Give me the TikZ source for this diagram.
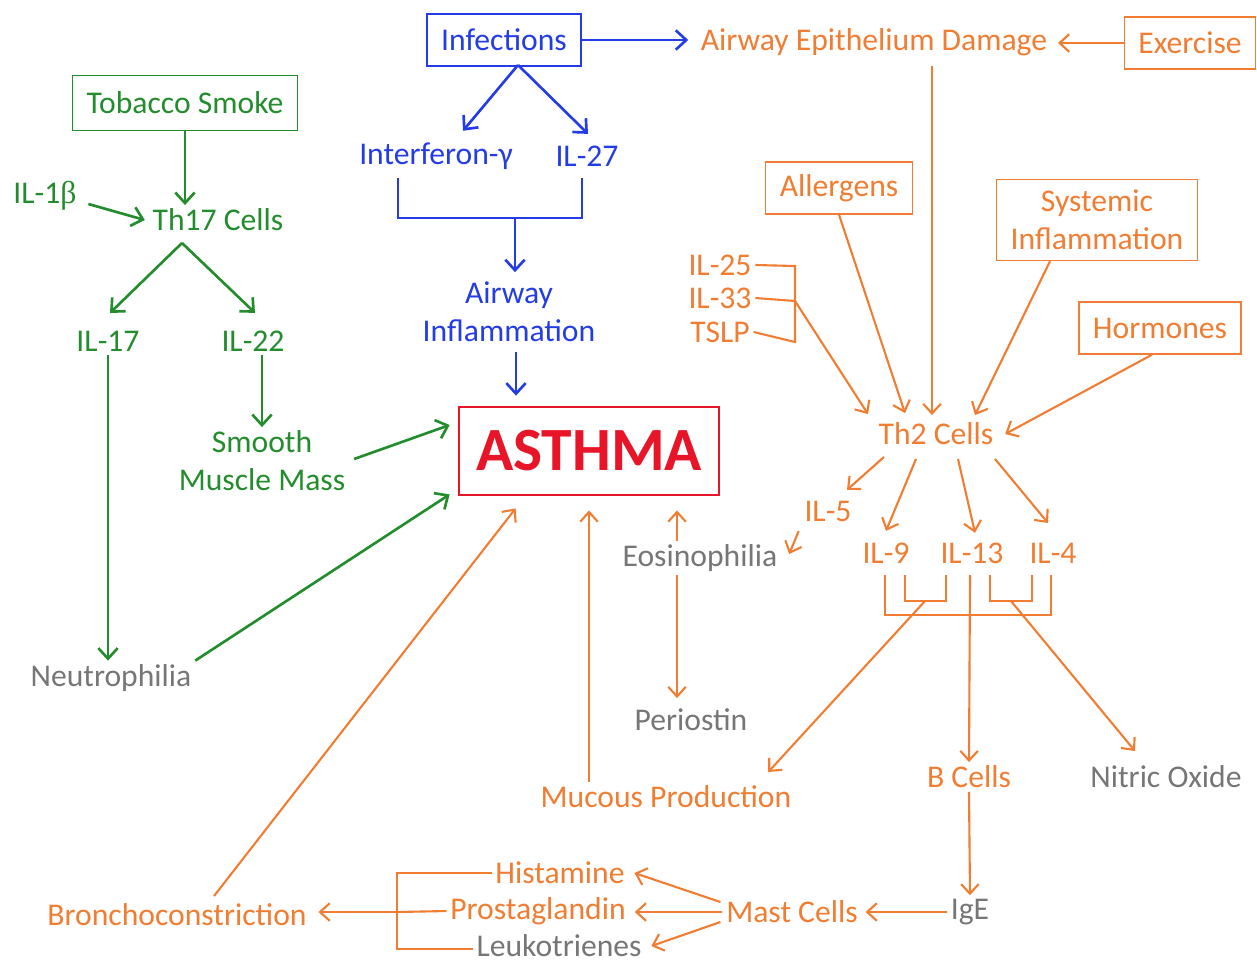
\documentclass[tikz,border=0pt]{standalone}
\usepackage{fontspec}
\setmainfont{Carlito}
\newfontfamily\betafont{Liberation Serif}
\usepackage{tikz}
\usetikzlibrary{positioning,arrows.meta,calc}
\definecolor{leafgreen}{RGB}{35,140,45}
\definecolor{infblue}{RGB}{35,60,230}
\definecolor{thorange}{RGB}{240,125,50}
\definecolor{midgrey}{RGB}{118,118,118}
\definecolor{alarmred}{RGB}{232,20,40}
\tikzstyle{gtext} = [text=leafgreen, inner sep=2pt]
\tikzstyle{btext} = [text=infblue, inner sep=2pt]
\tikzstyle{otext} = [text=thorange, inner sep=2pt]
\tikzstyle{greytext} = [text=midgrey, inner sep=2pt]
\tikzstyle{gbox} = [gtext, draw=leafgreen, line width=0.8pt, inner xsep=8pt, minimum height=1.1cm]
\tikzstyle{bbox} = [btext, draw=infblue, line width=0.8pt, inner xsep=8pt, minimum height=1.04cm]
\tikzstyle{obox} = [otext, draw=thorange, line width=0.8pt, inner xsep=8pt, inner ysep=6pt, minimum height=1.04cm]
\tikzstyle{asthmabox} = [draw=alarmred, text=alarmred, line width=1.6pt, minimum width=5.2cm, minimum height=1.76cm, font=\fontsize{35}{42}\selectfont\bfseries]
\tikzstyle{garrow} = [leafgreen, line width=1.5pt, -{Straight Barb[length=6pt,width=11pt]}]
\tikzstyle{barrow} = [infblue, line width=1.5pt, -{Straight Barb[length=6pt,width=11pt]}]
\tikzstyle{oarrow} = [thorange, line width=1.2pt, -{Straight Barb[length=5.5pt,width=10pt]}]
\tikzstyle{bline} = [infblue, line width=1.5pt]
\tikzstyle{oline} = [thorange, line width=1.2pt]

\begin{document}
\begin{tikzpicture}[x=0.02cm, y=-0.02cm, every node/.style={font=\fontsize{18}{21.6}\selectfont}]
    \useasboundingbox (0,0) rectangle (1257,965);

    % smoke side
    \node[gbox] (smoke) at (185,103) {Tobacco Smoke};
    \node[gtext] (il1b) at (45,196) {IL-1{\betafont β}};
    \node[gtext] (th17) at (218,220) {Th17 Cells};
    \node[gtext] (il17) at (108,341) {IL-17};
    \node[gtext] (il22) at (253,341) {IL-22};
    \node[gtext, align=center] (smooth) at (262,461) {Smooth\\Muscle Mass};
    \node[greytext] (neutro) at (111,678) {Neutrophilia};

    % infection side
    \node[bbox] (infect) at (504,40) {Infections};
    \node[btext] (ifng) at (436,156) {Interferon-γ};
    \node[btext] (il27) at (587,156) {IL-27};
    \node[btext, align=center] (airinf) at (509,312) {Airway\\Inflammation};

    \node[asthmabox] (asthma) at (589,451) {ASTHMA};

    % th2 side
    \node[otext] (aed) at (874,42) {Airway Epithelium Damage};
    \node[obox] (exer) at (1190,43) {Exercise};
    \node[obox] (allerg) at (839,188) {Allergens};
    \node[obox, align=center] (sysinf) at (1097,220) {Systemic\\Inflammation};
    \node[obox] (horm) at (1160,328) {Hormones};
    \node[otext] (il25) at (720,265) {IL-25};
    \node[otext] (il33) at (720,298) {IL-33};
    \node[otext] (tslp) at (720,332) {TSLP};
    \node[otext] (th2) at (936,434) {Th2 Cells};
    \node[otext] (il5) at (828,511) {IL-5};
    \node[otext] (il9) at (886,553) {IL-9};
    \node[otext] (il13) at (972,553) {IL-13};
    \node[otext] (il4) at (1053,553) {IL-4};
    \node[greytext] (eosin) at (700,558) {Eosinophilia};
    \node[greytext] (periostin) at (691,720) {Periostin};
    \node[otext] (mucous) at (666,797) {Mucous Production};
    \node[otext] (bcell) at (969,777) {B Cells};
    \node[greytext] (nitric) at (1166,777) {Nitric Oxide};
    \node[greytext] (ige) at (970,912) {IgE};
    \node[otext] (mast) at (792,912) {Mast Cells};
    \node[otext] (hist) at (560,873) {Histamine};
    \node[otext] (prost) at (538,911) {Prostaglandin};
    \node[greytext] (leuko) at (559,946) {Leukotrienes};
    \node[otext] (broncho) at (177,915) {Bronchoconstriction};

    % bracket corners
    \coordinate (th17s) at (182,243);
    \coordinate (infs) at (518,65);
    \coordinate (ifl) at (398,178); \coordinate (ifb) at (398,218);
    \coordinate (ilr) at (582,178); \coordinate (ilb) at (582,218);
    \coordinate (ifm) at (515,218);
    \coordinate (c25) at (795,266); \coordinate (c33) at (795,301); \coordinate (ctslp) at (795,342);
    \coordinate (a1) at (885,575); \coordinate (a2) at (885,615);
    \coordinate (a3) at (1051,615); \coordinate (a4) at (1051,575);
    \coordinate (b1) at (905,575); \coordinate (b2) at (905,601);
    \coordinate (b3) at (946,601); \coordinate (b4) at (946,575);
    \coordinate (b5) at (925,601);
    \coordinate (d1) at (990,575); \coordinate (d2) at (990,601);
    \coordinate (d3) at (1032,601); \coordinate (d4) at (1032,575);
    \coordinate (d5) at (1011,601);
    \coordinate (m1) at (970,575);
    \coordinate (eo) at (677,558);
    \coordinate (hb) at (397,873); \coordinate (pb) at (397,912); \coordinate (lb) at (397,949);

    % green arrows
    \draw[garrow] (smoke.south) -- (smoke.south |- th17.north);
    \draw[garrow] ([shift={(8,8)}]il1b.east) -- ([shift={(-4,0)}]th17.west);
    \draw[garrow] (th17s) -- ([shift={(2,-14)}]il17.north);
    \draw[garrow] (th17s) -- ([shift={(2,-14)}]il22.north);
    \draw[garrow] ([shift={(9,0)}]il22.south) -- (smooth.north);
    \draw[garrow] (il17.south) -- (il17.south |- neutro.north);
    \draw[garrow] ([shift={(5,-2)}]smooth.east) -- ([shift={(-8,-26)}]asthma.west);
    \draw[garrow] (neutro.north east) -- ([shift={(-8,-2)}]asthma.south west);

    % blue arrows
    \draw[barrow] (infect.east) -- ([xshift=-5pt]infect.east -| aed.west);
    \draw[barrow] (infs) -- ([shift={(27,-8)}]ifng.north);
    \draw[barrow] (infs) -- ([shift={(1,-8)}]il27.north);
    \draw[bline] (ifl) -- (ifb) -- (ilb) -- (ilr);
    \draw[barrow] (ifm) -- ([shift={(6,-6)}]airinf.north);
    \draw[barrow] ([shift={(7,6)}]airinf.south) -- ([shift={(7,-10)}]airinf.south |- asthma.north);

    % orange arrows into th2
    \draw[oarrow] (exer.west) -- ([xshift=4pt]exer.west -| aed.east);
    \draw[oarrow] ([shift={(58,6)}]aed.south) -- ([shift={(-4,-4)}]th2.north);
    \draw[oarrow] (allerg.south) -- ([shift={(-31,-6)}]th2.north);
    \draw[oarrow] ([shift={(-47,0)}]sysinf.south) -- ([shift={(39,-4)}]th2.north);
    \draw[oarrow] ([shift={(-8,0)}]horm.south) -- ([shift={(8,0)}]th2.east);
    \draw[oline] (il25.east) -- (c25) -- (ctslp) -- (tslp.east);
    \draw[oline] (il33.east) -- (c33);
    \draw[oarrow] (c33) -- ([shift={(-68,-5)}]th2.north);

    % orange arrows out of th2
    \draw[oarrow] ([shift={(-52,8)}]th2.south) -- ([shift={(19,-7)}]il5.north);
    \draw[oarrow] ([shift={(-20,10)}]th2.south) -- ([shift={(0,-8)}]il9.north);
    \draw[oarrow] ([shift={(22,10)}]th2.south) -- ([shift={(3,-6)}]il13.north);
    \draw[oarrow] ([shift={(59,10)}]th2.south) -- ([shift={(-5,-16)}]il4.north);
    \draw[oarrow] ([shift={(-2,6)}]il5.south west) -- ([shift={(8,-4)}]eosin.east);
    \draw[oline] (a1) -- (a2) -- (a3) -- (a4);
    \draw[oline] (b1) -- (b2) -- (b3) -- (b4);
    \draw[oline] (d1) -- (d2) -- (d3) -- (d4);
    \draw[oarrow] (m1) -- (bcell.north);
    \draw[oarrow] (b5) -- ([shift={(-27,-10)}]mucous.north east);
    \draw[oarrow] (d5) -- ([shift={(-31,-11)}]nitric.north);

    % eosinophilia and mucous
    \draw[oarrow] (eo |- eosin.north) -- ([yshift=-8pt]eo |- asthma.south);
    \draw[oarrow] (eo |- eosin.south) -- ([yshift=4pt]eo |- periostin.north);
    \draw[oarrow] (mucous.north -| asthma.south) -- ([yshift=-8pt]asthma.south);

    % mast cells
    \draw[oarrow] (bcell.south) -- (ige.north);
    \draw[oarrow] (ige.west) -- ([shift={(4,0)}]mast.east);
    \draw[oarrow] ([shift={(-2,-10)}]mast.west) -- ([shift={(6,0)}]hist.east);
    \draw[oarrow] (mast.west) -- ([xshift=3pt]mast.west -| prost.east);
    \draw[oarrow] ([shift={(-2,10)}]mast.west) -- ([shift={(6,0)}]leuko.east);
    \draw[oline] (hist.west) -- (hb) -- (lb) -- (lb -| leuko.west);
    \draw[oline] (prost.west) -- (pb);
    \draw[oarrow] (pb) -- ([shift={(8,0)}]pb -| broncho.east);
    \draw[oarrow] ([shift={(37,-4)}]broncho.north) -- ([shift={(58,12)}]asthma.south west);
\end{tikzpicture}
\end{document}
